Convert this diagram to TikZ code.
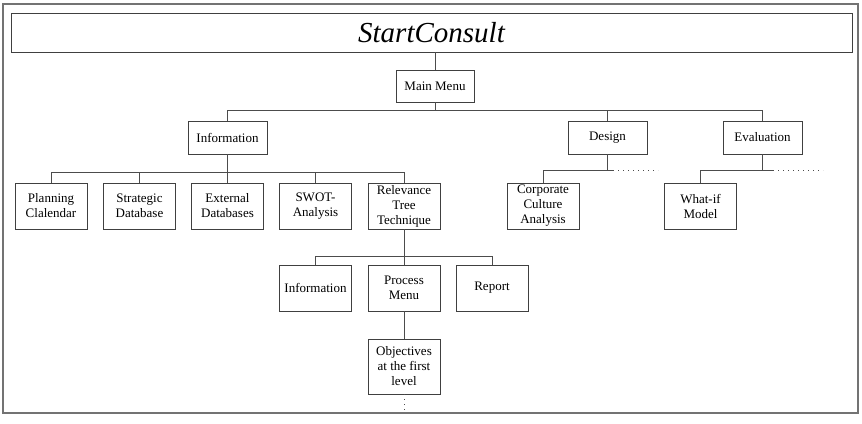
\documentclass[tikz,border=0pt]{standalone}
\usepackage{fontspec}
\setmainfont{Liberation Serif}
\usetikzlibrary{positioning}

\begin{document}
\begin{tikzpicture}[x=1pt, y=-1pt]

    % Define styles
    \tikzset{
        titlebox/.style = {rectangle, minimum width=841pt, minimum height=39pt, text centered, draw=black!75, fill=white, line width=0.9pt, font=\fontsize{29}{32}\selectfont\itshape},
        menubox/.style = {rectangle, minimum width=79pt, minimum height=33pt, inner sep=0pt, text centered, draw=black!75, fill=white, line width=0.8pt, font=\fontsize{13}{15}\selectfont},
        leafbox/.style = {rectangle, minimum width=72pt, minimum height=46pt, inner sep=0pt, align=center, draw=black!75, fill=white, line width=0.8pt, font=\fontsize{13}{15}\selectfont},
        link/.style = {draw=black!70, line width=0.8pt},
        more/.style = {draw=black!70, line width=1pt, dash pattern=on 1pt off 4pt},
        frame/.style = {draw=black!55, line width=1.2pt}
    }

    \useasboundingbox (0,0) rectangle (862,423);
    \draw [frame] (3,4) rectangle (858,413);

    % Nodes
    \node (title) [titlebox] at (431.5,32.5) {StartConsult};
    \node (mainmenu) [menubox, minimum width=78pt, minimum height=32pt] at (435,86) {Main Menu};

    \node (info) [menubox] at (227.5,137.5) {Information};
    \node (design) [menubox] at (607.5,137.5) {Design};
    \node (eval) [menubox] at (762.5,137.5) {Evaluation};

    \node (plan) [leafbox] at (51,206) {Planning\\Clalendar};
    \node (strat) [leafbox] at (139.5,206) {Strategic\\Database};
    \node (ext) [leafbox] at (227.5,206) {External\\Databases};
    \node (swot) [leafbox] at (315.5,206) {SWOT-\\Analysis};
    \node (rel) [leafbox] at (404,206) {Relevance\\Tree\\Technique};
    \node (corp) [leafbox] at (543,206) {Corporate\\Culture\\Analysis};
    \node (whatif) [leafbox] at (700.5,206) {What-if\\Model};

    \node (relinfo) [leafbox] at (315.5,288) {Information};
    \node (proc) [leafbox] at (404,288) {Process\\Menu};
    \node (report) [leafbox] at (492,288) {Report};

    \node (obj) [leafbox, minimum height=55pt] at (404,366.5) {Objectives\\at the first\\level};

    % Bus points
    \coordinate (mbus) at (435,110);
    \coordinate (ibus) at (227.5,172.7);
    \coordinate (dbus) at (607.5,170);
    \coordinate (ebus) at (762.5,170);
    \coordinate (rbus) at (404,256);
    \coordinate (dend) at (613,170);
    \coordinate (dmore) at (658,170);
    \coordinate (eend) at (773,170);
    \coordinate (emore) at (823,170);
    \coordinate (omore) at (404,412);

    % Connectors
    \draw [link] (mainmenu.north) -- (mainmenu.north |- title.south);
    \draw [link] (mainmenu) -- (mbus);
    \foreach \n in {info, design, eval}
        \draw [link] (mbus) -| (\n.north);

    \draw [link] (info) -- (ibus);
    \foreach \n in {plan, strat, ext, swot, rel}
        \draw [link] (ibus) -| (\n.north);

    \draw [link] (design) -- (dbus) -| (corp.north);
    \draw [link] (dbus) -- (dend);
    \draw [more] (dend) -- (dmore);

    \draw [link] (eval) -- (ebus) -| (whatif.north);
    \draw [link] (ebus) -- (eend);
    \draw [more] (eend) -- (emore);

    \draw [link] (rel) -- (rbus);
    \foreach \n in {relinfo, proc, report}
        \draw [link] (rbus) -| (\n.north);

    \draw [link] (proc) -- (obj);
    \draw [more] (obj) -- (omore);
\end{tikzpicture}
\end{document}
